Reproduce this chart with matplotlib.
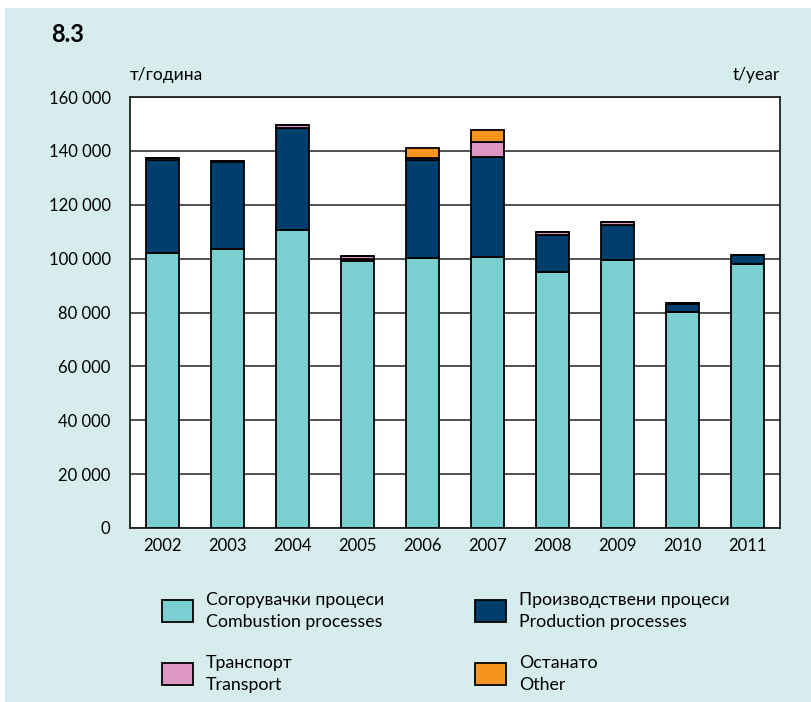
import matplotlib
matplotlib.use("Agg")
import matplotlib.pyplot as plt
from matplotlib.patches import Rectangle
from matplotlib.ticker import FuncFormatter

plt.rcParams["font.family"] = ["Lato", "DejaVu Sans"]

years = ["2002", "2003", "2004", "2005", "2006", "2007", "2008", "2009", "2010", "2011"]
combustion = [102000, 103600, 110800, 99300, 100400, 100600, 95200, 99400, 80100, 98100]
production = [34600, 32200, 37600, 400, 36300, 37300, 13700, 13200, 3000, 3100]
transport = [600, 600, 1300, 1100, 600, 5500, 800, 900, 300, 300]
other = [0, 0, 0, 0, 3600, 4300, 0, 0, 0, 0]

series = [
    ("Согорувачки процеси\nCombustion processes", combustion, "#7acfd0"),
    ("Производствени процеси\nProduction processes", production, "#003e6e"),
    ("Транспорт\nTransport", transport, "#de96c3"),
    ("Останато\nOther", other, "#f7941d"),
]

bg = "#d6eced"
fig = plt.figure(figsize=(8.12, 7.02), dpi=100)
fig.patch.set_facecolor("white")
fig.add_artist(Rectangle((5 / 812, 0), 1, 1 - 8 / 702, transform=fig.transFigure,
                         facecolor=bg, edgecolor="none", zorder=-10))

ax = fig.add_axes([130 / 812, 1 - 528 / 702, 650 / 812, 431 / 702])
ax.set_facecolor("white")

x = list(range(len(years)))
bottom = [0] * len(years)
for label, vals, color in series:
    ax.bar(x, vals, width=0.5, bottom=bottom, color=color, edgecolor="black",
           linewidth=1.3, zorder=3)
    bottom = [b + v for b, v in zip(bottom, vals)]

ax.set_xlim(-0.5, len(years) - 0.5)
ax.set_ylim(0, 160000)
ax.set_yticks(range(0, 160001, 20000))
ax.yaxis.set_major_formatter(FuncFormatter(lambda v, p: f"{int(v):,}".replace(",", " ")))
ax.set_xticks(x)
ax.set_xticklabels(years)
ax.tick_params(axis="both", length=0, labelsize=12, colors="black", pad=7)
ax.tick_params(axis="y", pad=14)
ax.grid(axis="y", color="#333333", linewidth=1.2, zorder=0)
for s in ax.spines.values():
    s.set_color("#222222")
    s.set_linewidth(1.3)

fig.text(51 / 812, 1 - 35 / 702, "8.3", fontsize=17, fontweight="bold", va="center", ha="left")
fig.text(130 / 812, 1 - 75 / 702, "т/година", fontsize=12.5, va="center", ha="left")
fig.text(780 / 812, 1 - 75 / 702, "t/year", fontsize=12.5, va="center", ha="right")

# legend, two columns
pos = [(162, 600), (475, 600), (162, 663), (475, 663)]
for (label, vals, color), (lx, ly) in zip(series, pos):
    fig.add_artist(Rectangle((lx / 812, 1 - (ly + 22) / 702), 31 / 812, 22 / 702,
                             transform=fig.transFigure, facecolor=color,
                             edgecolor="black", linewidth=1.3))
    fig.text((lx + 44) / 812, 1 - (ly + 11) / 702, label, fontsize=12.8,
             va="center", ha="left", linespacing=1.5)

fig.savefig("out.png", dpi=100)
